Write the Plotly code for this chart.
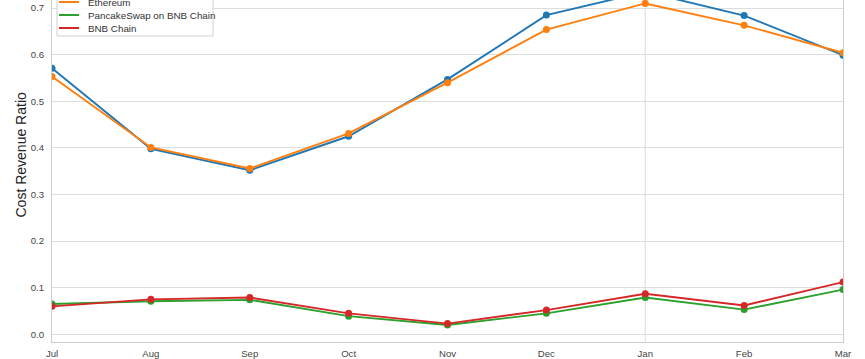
import plotly.graph_objects as go

# ---- data ----
months = ["Jul", "Aug", "Sep", "Oct", "Nov", "Dec", "Jan", "Feb", "Mar"]
tick_labels = ["Jul", "Aug", "Sep", "Oct", "Nov", "Dec", "Jan<br>2023", "Feb", "Mar"]

series_names = ["Uniswap on Ethereum", "Ethereum", "PancakeSwap on BNB Chain", "BNB Chain"]
series_colors = ["#1f77b4", "#ff7f0e", "#2ca02c", "#d62728"]

uniswap_eth = [0.571, 0.398, 0.352, 0.425, 0.547, 0.685, 0.735, 0.684, 0.599]
ethereum = [0.553, 0.401, 0.356, 0.431, 0.540, 0.654, 0.710, 0.663, 0.604]
pancake_bnb = [0.065, 0.071, 0.074, 0.039, 0.020, 0.045, 0.079, 0.053, 0.096]
bnb_chain = [0.060, 0.075, 0.079, 0.045, 0.023, 0.052, 0.087, 0.062, 0.112]

series_values = [uniswap_eth, ethereum, pancake_bnb, bnb_chain]

FONT = "Liberation Sans, Arial, Helvetica, sans-serif"
W, H = 865, 359
L, R, T, B = 52, 22, 0, 17
PW, PH = W - L - R, H - T - B


def px_x(p):
    return (p - L) / PW


def px_y(p):
    return (H - B - p) / PH


fig = go.Figure()
for name, color, vals in zip(series_names, series_colors, series_values):
    fig.add_trace(go.Scatter(
        x=months, y=vals, name=name, mode="lines+markers",
        line=dict(color=color, width=1.9),
        marker=dict(color=color, size=7),
        showlegend=False,
    ))

# vertical gridline at the year boundary (January)
jan_idx = months.index("Jan")
shapes = [dict(type="line", xref="x", yref="paper", x0=jan_idx, x1=jan_idx, y0=0, y1=1,
               line=dict(color="#dddddd", width=1), layer="below")]

# manual legend (top partially cropped like the reference)
shapes.append(dict(type="rect", xref="paper", yref="paper",
                   x0=px_x(57), x1=px_x(213), y0=px_y(36), y1=px_y(-22),
                   line=dict(color="#d0d0d0", width=1), fillcolor="rgba(255,255,255,0.85)",
                   layer="above"))
annotations = []
n = len(series_names)
for i, (name, color) in enumerate(zip(series_names, series_colors)):
    cy = 28 - 13 * (n - 1 - i)
    shapes.append(dict(type="line", xref="paper", yref="paper",
                       x0=px_x(59), x1=px_x(79), y0=px_y(cy), y1=px_y(cy),
                       line=dict(color=color, width=2), layer="above"))
    annotations.append(dict(xref="paper", yref="paper", x=px_x(86), y=px_y(cy),
                            xanchor="left", yanchor="middle", showarrow=False,
                            text=name, font=dict(family=FONT, size=9.8, color="#333333")))

annotations.append(dict(xref="paper", yref="paper", x=px_x(20), y=px_y(154.5),
                        xanchor="center", yanchor="middle", showarrow=False, textangle=-90,
                        text="Cost Revenue Ratio", font=dict(family=FONT, size=14, color="#222222")))

fig.update_layout(
    width=W, height=H,
    margin=dict(l=L, r=R, t=T, b=B, autoexpand=False),
    paper_bgcolor="white", plot_bgcolor="white",
    font=dict(family=FONT, size=9.6, color="#444444"),
    shapes=shapes, annotations=annotations,
    showlegend=False,
)
fig.update_xaxes(
    type="category", categoryorder="array", categoryarray=months,
    range=[0, len(months) - 1],
    tickmode="array", tickvals=months, ticktext=tick_labels,
    showgrid=False, zeroline=False,
    showline=True, linecolor="#cccccc", linewidth=1, mirror=False,
    ticks="", ticklabelstandoff=2,
    tickfont=dict(family=FONT, size=9.6, color="#444444"),
    automargin=False,
)
fig.update_yaxes(
    range=[-0.0165, 0.7174],
    tickmode="array", tickvals=[0.0, 0.1, 0.2, 0.3, 0.4, 0.5, 0.6, 0.7],
    tickformat=".1f",
    showgrid=True, gridcolor="#dddddd", gridwidth=1, zeroline=False,
    showline=True, linecolor="#cccccc", linewidth=1, mirror=True,
    ticks="", ticklabelstandoff=5,
    tickfont=dict(family=FONT, size=9.6, color="#444444"),
    automargin=False,
)

fig.write_html(
    "out.html",
    config={"displayModeBar": False},
    post_script="document.body.style.margin='0';document.body.style.overflow='hidden';",
)
